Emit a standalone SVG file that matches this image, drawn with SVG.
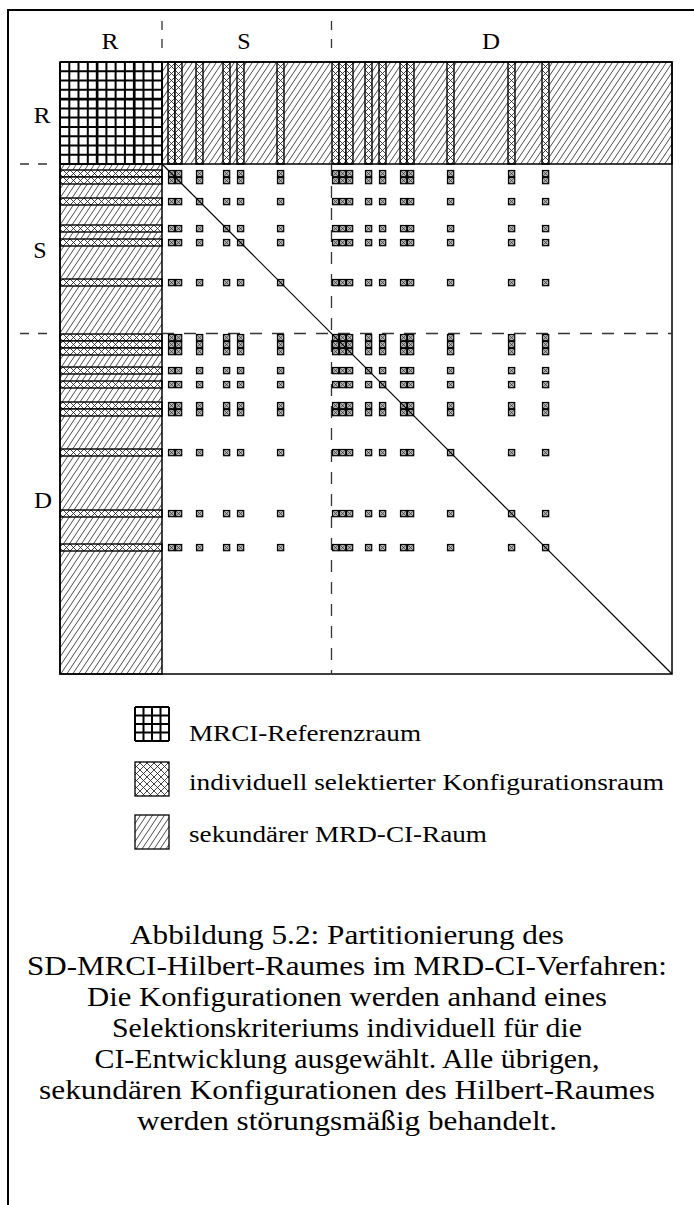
<svg xmlns="http://www.w3.org/2000/svg" xmlns:xlink="http://www.w3.org/1999/xlink" width="694" height="1205" viewBox="0 0 694 1205">
<style>
.lbl{font-family:"Liberation Serif","Times New Roman",serif;font-size:24px;fill:#000;text-anchor:middle}
.leg{font-family:"Liberation Serif","Times New Roman",serif;font-size:24px;fill:#000}
.cap{font-family:"Liberation Serif","Times New Roman",serif;font-size:27px;fill:#000;text-anchor:middle}
.dash{stroke:#333;stroke-width:1.3;fill:none}
.grid{stroke:#000;stroke-width:2;fill:none}
</style>
<defs>
<pattern id="hatch" patternUnits="userSpaceOnUse" width="6" height="9">
<rect width="6" height="9" fill="#fff"/>
<path d="M0,9 L6,0 M-1,1.5 L1,-1.5 M5,10.5 L7,7.5" stroke="#000" stroke-width="0.7"/>
</pattern>
<pattern id="xh" patternUnits="userSpaceOnUse" width="7" height="7">
<rect width="7" height="7" fill="#fff"/>
<path d="M0,0 L7,7 M7,0 L0,7 M-1,6 L1,8 M6,-1 L8,1 M-1,1 L1,-1 M6,8 L8,6" stroke="#222" stroke-width="0.85"/>
</pattern>
<g id="vu"><rect x="0" y="62" width="7" height="102" fill="url(#xh)" stroke="#000" stroke-width="1.4"/></g>
<g id="hu"><rect x="60" y="0" width="102" height="7" fill="url(#xh)" stroke="#000" stroke-width="1.4"/></g>
<g id="dot"><rect x="0.5" y="0.5" width="6.2" height="6.2" fill="#b8b8b8" stroke="#000" stroke-width="1.2"/><path d="M1,1 L6.2,6.2 M6.2,1 L1,6.2" stroke="#333" stroke-width="0.8"/></g>
<g id="dotcol">
<use href="#dot" y="170"/><use href="#dot" y="177"/><use href="#dot" y="198"/><use href="#dot" y="225"/>
<use href="#dot" y="239"/><use href="#dot" y="279"/><use href="#dot" y="334"/><use href="#dot" y="341"/>
<use href="#dot" y="348"/><use href="#dot" y="367"/><use href="#dot" y="381"/><use href="#dot" y="402"/>
<use href="#dot" y="409"/><use href="#dot" y="449"/><use href="#dot" y="510"/><use href="#dot" y="544"/>
</g>
</defs>

<rect width="694" height="1205" fill="#fff"/>
<g id="frame"><path d="M8,1205 V10 H694" stroke="#000" stroke-width="2" fill="none"/></g>

<g id="labels">
<text class="lbl" x="110" y="49" textLength="17" lengthAdjust="spacingAndGlyphs">R</text>
<text class="lbl" x="244" y="49">S</text>
<text class="lbl" x="491" y="49" textLength="18" lengthAdjust="spacingAndGlyphs">D</text>
<text class="lbl" x="42" y="123" textLength="17" lengthAdjust="spacingAndGlyphs">R</text>
<text class="lbl" x="40" y="258">S</text>
<text class="lbl" x="43" y="508" textLength="18" lengthAdjust="spacingAndGlyphs">D</text>
</g>

<g id="top-strip">
<rect x="162" y="62" width="510" height="102" fill="url(#hatch)"/>
<use href="#vu" x="168"/><use href="#vu" x="175"/><use href="#vu" x="196"/><use href="#vu" x="223"/>
<use href="#vu" x="237"/><use href="#vu" x="277"/><use href="#vu" x="332"/><use href="#vu" x="339"/>
<use href="#vu" x="346"/><use href="#vu" x="365"/><use href="#vu" x="379"/><use href="#vu" x="400"/>
<use href="#vu" x="407"/><use href="#vu" x="447"/><use href="#vu" x="508"/><use href="#vu" x="542"/>
<rect x="162" y="62" width="510" height="102" fill="none" stroke="#000" stroke-width="1.5"/>
</g>

<g id="left-strip">
<rect x="60" y="164" width="102" height="510" fill="url(#hatch)"/>
<use href="#hu" y="170"/><use href="#hu" y="177"/><use href="#hu" y="198"/><use href="#hu" y="225"/>
<use href="#hu" y="239"/><use href="#hu" y="279"/><use href="#hu" y="334"/><use href="#hu" y="341"/>
<use href="#hu" y="348"/><use href="#hu" y="367"/><use href="#hu" y="381"/><use href="#hu" y="402"/>
<use href="#hu" y="409"/><use href="#hu" y="449"/><use href="#hu" y="510"/><use href="#hu" y="544"/>
<rect x="60" y="164" width="102" height="510" fill="none" stroke="#000" stroke-width="1.5"/>
</g>

<g id="r-block">
<rect x="60" y="62" width="102" height="102" fill="#fff"/>
<path class="grid" d="M60,62 V164 M69.3,62 V164 M78.5,62 V164 M87.8,62 V164 M97.1,62 V164 M106.4,62 V164 M115.6,62 V164 M124.9,62 V164 M134.2,62 V164 M143.5,62 V164 M152.7,62 V164 M162,62 V164"/>
<path class="grid" d="M60,62 H162 M60,71.3 H162 M60,80.5 H162 M60,89.8 H162 M60,99.1 H162 M60,108.4 H162 M60,117.6 H162 M60,126.9 H162 M60,136.2 H162 M60,145.5 H162 M60,154.7 H162 M60,164 H162"/>
<path d="M97.1,62 V164 M134.2,62 V164 M60,99.1 H162" stroke="#000" stroke-width="2.6"/>
</g>

<g id="matrix-border"><rect x="60" y="62" width="612" height="612" fill="none" stroke="#000" stroke-width="1.5"/></g>

<g id="separators">
<path class="dash" d="M162,21 V48 M331.5,21 V48" stroke-dasharray="9 9"/>
<path class="dash" d="M20,164 H49 M20,333.5 H49" stroke-dasharray="9 9"/>
<path class="dash" d="M331.5,164 V674 M162,333.5 H672" stroke-dasharray="12 10"/>
</g>

<g id="dots">
<use href="#dotcol" x="168"/><use href="#dotcol" x="175"/><use href="#dotcol" x="196"/><use href="#dotcol" x="223"/>
<use href="#dotcol" x="237"/><use href="#dotcol" x="277"/><use href="#dotcol" x="332"/><use href="#dotcol" x="339"/>
<use href="#dotcol" x="346"/><use href="#dotcol" x="365"/><use href="#dotcol" x="379"/><use href="#dotcol" x="400"/>
<use href="#dotcol" x="407"/><use href="#dotcol" x="447"/><use href="#dotcol" x="508"/><use href="#dotcol" x="542"/>
</g>

<g id="connectors"><line x1="162" y1="164" x2="672" y2="674" stroke="#000" stroke-width="1.2"/></g>

<g id="legend">
<g id="legend-ref">
<rect x="135" y="707" width="34" height="34" fill="#fff"/>
<path class="grid" d="M135,707 V741 M143.5,707 V741 M152,707 V741 M160.5,707 V741 M169,707 V741 M135,707 H169 M135,715.5 H169 M135,724 H169 M135,732.5 H169 M135,741 H169"/>
<text class="leg" x="189" y="741" textLength="232" lengthAdjust="spacingAndGlyphs">MRCI-Referenzraum</text>
</g>
<g id="legend-sel">
<rect x="135" y="762" width="34" height="34" fill="url(#xh)" stroke="#000" stroke-width="1.3"/>
<text class="leg" x="189" y="790" textLength="475" lengthAdjust="spacingAndGlyphs">individuell selektierter Konfigurationsraum</text>
</g>
<g id="legend-sec">
<rect x="135" y="815" width="34" height="34" fill="url(#hatch)" stroke="#000" stroke-width="1.3"/>
<text class="leg" x="189" y="842" textLength="298" lengthAdjust="spacingAndGlyphs">sekundärer MRD-CI-Raum</text>
</g>
</g>

<g id="caption">
<text class="cap" x="347" y="944" textLength="434" lengthAdjust="spacingAndGlyphs">Abbildung 5.2: Partitionierung des</text>
<text class="cap" x="347" y="975" textLength="640" lengthAdjust="spacingAndGlyphs">SD-MRCI-Hilbert-Raumes im MRD-CI-Verfahren:</text>
<text class="cap" x="347" y="1006" textLength="520" lengthAdjust="spacingAndGlyphs">Die Konfigurationen werden anhand eines</text>
<text class="cap" x="347" y="1037" textLength="470" lengthAdjust="spacingAndGlyphs">Selektionskriteriums individuell für die</text>
<text class="cap" x="347" y="1068" textLength="505" lengthAdjust="spacingAndGlyphs">CI-Entwicklung ausgewählt. Alle übrigen,</text>
<text class="cap" x="347" y="1099" textLength="616" lengthAdjust="spacingAndGlyphs">sekundären Konfigurationen des Hilbert-Raumes</text>
<text class="cap" x="347" y="1130" textLength="420" lengthAdjust="spacingAndGlyphs">werden störungsmäßig behandelt.</text>
</g>
</svg>
